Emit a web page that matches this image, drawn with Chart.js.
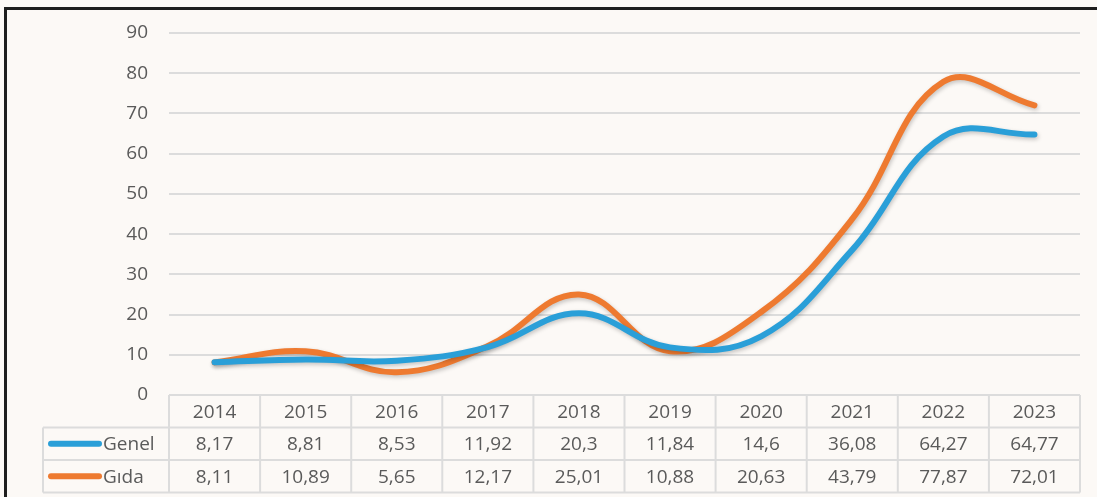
<!DOCTYPE html>
<html>
<head>
<meta charset="utf-8">
<script src="https://cdn.jsdelivr.net/npm/chart.js@4.4.1/dist/chart.umd.min.js"></script>
<style>
  body { margin: 0; background: #fcf9f6; }
  #wrap { position: relative; width: 1097px; height: 497px; }
  #frame {
    position: absolute; left: 4px; top: 7px; right: 0; bottom: 0;
    border-left: 3px solid #1e1e1e; border-top: 3px solid #1e1e1e;
    pointer-events: none;
  }
</style>
</head>
<body>
<div id="wrap">
  <canvas id="chart" width="1097" height="497"></canvas>
  <div id="frame"></div>
</div>
<script>
var years = ['2014', '2015', '2016', '2017', '2018', '2019', '2020', '2021', '2022', '2023'];
var genel = [8.17, 8.81, 8.53, 11.92, 20.3, 11.84, 14.6, 36.08, 64.27, 64.77];
var gida = [8.11, 10.89, 5.65, 12.17, 25.01, 10.88, 20.63, 43.79, 77.87, 72.01];
var seriesNames = ['Genel', 'Gıda'];
var seriesColors = ['#2a9fd8', '#ee7a30'];
var yMin = 0, yMax = 90, yStep = 10;

var textColor = '#5a5a5a';
var gridColor = '#dcdcdc';
var fontFamily = "'Open Sans', sans-serif";
var fontSize = 19;

function fmt(v) {
  return String(v).replace('.', ',');
}

// soft shadow under the lines, like the office chart
var lineShadow = {
  id: 'lineShadow',
  beforeDatasetDraw: function (chart) {
    var ctx = chart.ctx;
    ctx.save();
    ctx.shadowColor = 'rgba(0,0,0,0.22)';
    ctx.shadowBlur = 4;
    ctx.shadowOffsetX = 1;
    ctx.shadowOffsetY = 2;
  },
  afterDatasetDraw: function (chart) {
    chart.ctx.restore();
  }
};

// data table under the plot
var dataTable = {
  id: 'dataTable',
  afterDraw: function (chart) {
    var ctx = chart.ctx;
    var area = chart.chartArea;
    var xs = chart.scales.x;
    var colW = (area.right - area.left) / years.length;
    var rowH = 32.5;
    var top = area.bottom;
    var legendLeft = 43;
    var rows = [genel, gida];

    ctx.save();
    ctx.strokeStyle = gridColor;
    ctx.lineWidth = 2;
    ctx.beginPath();
    ctx.moveTo(area.left, top);
    ctx.lineTo(area.right, top);
    for (var r = 1; r <= 3; r++) {
      ctx.moveTo(legendLeft, top + r * rowH);
      ctx.lineTo(area.right, top + r * rowH);
    }
    for (var i = 0; i <= years.length; i++) {
      ctx.moveTo(area.left + i * colW, top);
      ctx.lineTo(area.left + i * colW, top + 3 * rowH);
    }
    ctx.moveTo(legendLeft, top + rowH);
    ctx.lineTo(legendLeft, top + 3 * rowH);
    ctx.stroke();

    ctx.fillStyle = textColor;
    ctx.font = fontSize + 'px ' + fontFamily;
    ctx.textAlign = 'center';
    ctx.textBaseline = 'middle';
    years.forEach(function (y, i) {
      ctx.fillText(y, xs.getPixelForValue(i), top + rowH / 2 + 1);
    });
    rows.forEach(function (vals, r) {
      var cy = top + rowH * (r + 1.5) + 1;
      vals.forEach(function (v, i) {
        ctx.fillText(fmt(v), xs.getPixelForValue(i), cy);
      });
    });

    // legend keys
    rows.forEach(function (vals, r) {
      var cy = top + rowH * (r + 1.5);
      ctx.strokeStyle = seriesColors[r];
      ctx.lineWidth = 6;
      ctx.lineCap = 'round';
      ctx.beginPath();
      ctx.moveTo(51, cy);
      ctx.lineTo(99, cy);
      ctx.stroke();
      ctx.textAlign = 'left';
      ctx.fillText(seriesNames[r], 103, cy + 1);
    });
    ctx.restore();
  }
};

var ctx = document.getElementById('chart').getContext('2d');
new Chart(ctx, {
  type: 'line',
  data: {
    labels: years,
    datasets: [
      {
        label: seriesNames[0],
        data: genel,
        borderColor: seriesColors[0],
        borderWidth: 6,
        tension: 0.4,
        pointRadius: 0,
        borderCapStyle: 'round'
      },
      {
        label: seriesNames[1],
        data: gida,
        borderColor: seriesColors[1],
        borderWidth: 6,
        tension: 0.4,
        pointRadius: 0,
        borderCapStyle: 'round'
      }
    ]
  },
  options: {
    responsive: false,
    animation: false,
    layout: { padding: { left: 0, right: 17, top: 33, bottom: 102 } },
    plugins: {
      legend: { display: false },
      tooltip: { enabled: false }
    },
    scales: {
      x: {
        type: 'category',
        offset: true,
        display: false
      },
      y: {
        min: yMin,
        max: yMax,
        afterFit: function (s) { s.width = 169; },
        border: { display: false },
        grid: { color: gridColor, lineWidth: 2, drawTicks: false },
        ticks: {
          stepSize: yStep,
          padding: 21,
          color: textColor,
          font: { family: fontFamily, size: fontSize }
        }
      }
    }
  },
  plugins: [lineShadow, dataTable]
});
</script>
</body>
</html>
